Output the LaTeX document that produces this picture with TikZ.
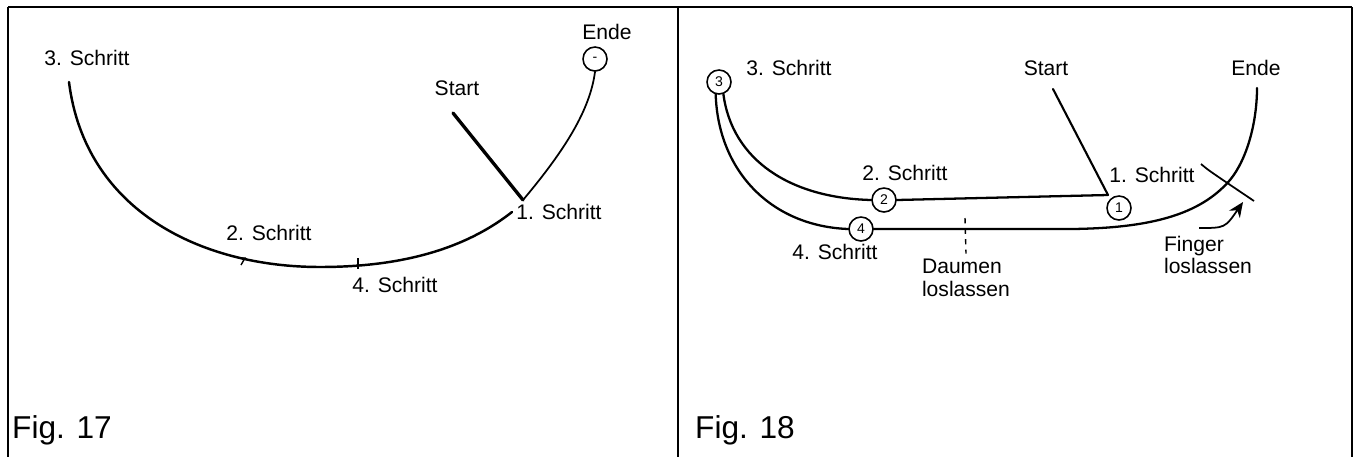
\documentclass[tikz,border=0pt]{standalone}
\usepackage{fontspec}
\setmainfont{Liberation Sans}
\usetikzlibrary{arrows.meta}

\begin{document}
\begin{tikzpicture}[x=0.02cm, y=-0.02cm,
    lbl/.style={font=\fontsize{12}{13}\selectfont, inner sep=0pt},
    figlbl/.style={font=\fontsize{18}{20}\selectfont, inner sep=0pt},
    marker/.style={circle, draw, line width=0.9pt, minimum size=0.48cm,
                   inner sep=0pt, font=\fontsize{8}{8}\selectfont},
    track/.style={line width=1.4pt, line cap=round},
    frame/.style={line width=0.7pt},
    hint/.style={-{Stealth[length=3mm, width=2.6mm]}, line width=1pt},
]
\useasboundingbox (0,0) rectangle (1358,457);

% Frame
\draw[frame, line width=1.6pt] (8,7) -- (1352,7);
\draw[frame] (8,7) -- (8,457);
\draw[frame] (678,7) -- (678,457);
\draw[frame] (1352,7) -- (1352,457);

% Fig. 17
\coordinate (arc3) at (69,82);
\coordinate (low17) at (320,267);
\coordinate (arc1) at (512,212);
\coordinate (go17) at (453,113);
\coordinate (v17) at (523,200);
\node[marker] (end17) at (595,59) {-};

\draw[track] (arc3) .. controls (85,210) and (200,267) .. (low17)
    .. controls (410,267) and (470,245) .. (arc1);
\draw[track, line width=1.9pt] (go17) -- (v17);
\draw[track, line width=1pt] (v17) .. controls (565,150) and (590,110) .. (end17.south);
\draw[line width=0.8pt] (238,258) -- (245,258) -- (241,265);
\draw[line width=0.8pt] (358,258) -- (358,269);

\node[lbl] (s3a) at (87,58) {3. Schritt};
\node[lbl] (starta) at (457,88) {Start};
\node[lbl] (endea) at (607,32) {Ende};
\node[lbl] (s1a) at (559,212) {1. Schritt};
\node[lbl] (s2a) at (269,233) {2. Schritt};
\node[lbl] (s4a) at (395,285) {4. Schritt};
\node[figlbl] (fig17) at (62,430) {Fig. 17};

% Fig. 18
\node[marker] (c3) at (719,82) {3};
\node[marker] (c2) at (884,200) {2};
\node[marker] (c1) at (1119,208) {1};
\node[marker] (c4) at (861,229) {4};
\coordinate (go18) at (1053,89);
\coordinate (v18) at (1108,195);
\coordinate (low18) at (1072,229);
\coordinate (cross) at (1230,180);
\coordinate (top18) at (1257,88);

\draw[track, line width=1.3pt] (c3.-70) .. controls (732,160) and (790,198) .. (c2.west);
\draw[track, line width=1.3pt] (c2.east) -- (v18);
\draw[track, line width=1.2pt] (go18) -- (v18);
\draw[track, line width=1.3pt] (c3.-105) .. controls (718,170) and (770,226) .. (c4.west);
\draw[track, line width=1.3pt] (c4.east) -- (low18)
    .. controls (1150,228) and (1200,215) .. (cross)
    .. controls (1248,158) and (1257,120) .. (top18);

% Release marks
\coordinate (xa) at (1201,164);
\coordinate (xb) at (1254,201);
\draw[line width=1pt] (xa) .. controls (1208,170) .. (xb);
\coordinate (hintfrom) at (1199,228);
\coordinate (hintto) at (1243,202);
\draw[hint] (hintfrom) .. controls (1225,228) .. (hintto);

\node[lbl] (s3b) at (789,68) {3. Schritt};
\node[lbl] (startb) at (1046,68) {Start};
\node[lbl] (endeb) at (1256,68) {Ende};
\node[lbl] (s2b) at (905,173) {2. Schritt};
\node[lbl] (s1b) at (1152,175) {1. Schritt};
\node[lbl] (s4b) at (835,252) {4. Schritt};
\node[lbl, align=left] (daumen) at (966,278) {Daumen\\loslassen};
\node[lbl, align=left] (finger) at (1208,255) {Finger\\loslassen};
\coordinate (dt) at (965,218);
\draw[dashed, line width=0.8pt] (dt) -- ([yshift=3pt]daumen.north);
\node[figlbl] (fig18) at (745,430) {Fig. 18};
\end{tikzpicture}
\end{document}
